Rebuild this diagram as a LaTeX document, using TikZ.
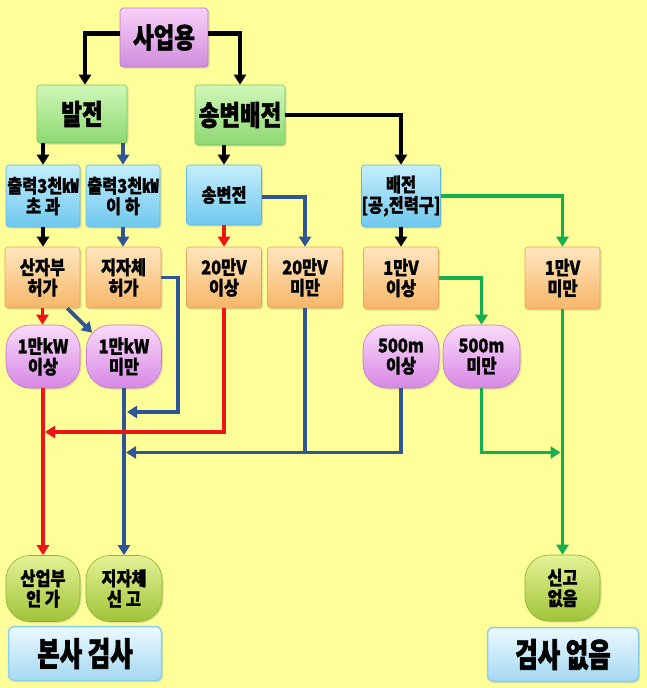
\documentclass[tikz,border=0pt]{standalone}
\usepackage{fontspec}
\newfontfamily\kr{Noto Sans CJK KR}[FakeStretch=0.86, FakeBold=1.2]
\newfontfamily\krc{Noto Sans CJK KR}[FakeStretch=0.8, FakeBold=1.5]
\newfontfamily\krx{Noto Sans CJK KR}[FakeStretch=0.74, FakeBold=1.8]
\usetikzlibrary{arrows.meta,shadows}
\definecolor{bg}{RGB}{255,255,153}
\definecolor{vtop}{RGB}{248,208,248}
\definecolor{vbot}{RGB}{208,140,220}
\definecolor{vbd}{RGB}{190,120,200}
\definecolor{gtop}{RGB}{208,248,184}
\definecolor{gbot}{RGB}{140,216,112}
\definecolor{gbd}{RGB}{120,196,96}
\definecolor{ctop}{RGB}{196,238,252}
\definecolor{cbot}{RGB}{112,200,238}
\definecolor{cbd}{RGB}{96,184,226}
\definecolor{otop}{RGB}{255,230,190}
\definecolor{obot}{RGB}{246,182,104}
\definecolor{obd}{RGB}{230,166,90}
\definecolor{ptop}{RGB}{250,218,250}
\definecolor{pbot}{RGB}{214,136,228}
\definecolor{pbd}{RGB}{196,120,210}
\definecolor{ltop}{RGB}{228,242,150}
\definecolor{lbot}{RGB}{160,196,56}
\definecolor{lbd}{RGB}{140,176,48}
\definecolor{btop}{RGB}{236,250,255}
\definecolor{bbot}{RGB}{164,216,242}
\definecolor{bbd}{RGB}{140,206,238}
\definecolor{lblue}{RGB}{47,85,151}
\definecolor{lred}{RGB}{240,20,20}
\definecolor{lgreen}{RGB}{20,176,80}
\tikzset{
  box/.style={rounded corners=3pt, inner sep=0pt, align=center, text=black, line width=0.6pt,
    drop shadow={shadow xshift=1.5pt, shadow yshift=-1.5pt, opacity=0.25}},
  big/.style={font=\krc\bfseries\fontsize{28}{30}\selectfont},
  mid/.style={font=\kr\bfseries\fontsize{19}{20.5}\selectfont},
  huge/.style={font=\krx\bfseries\fontsize{33}{35}\selectfont},
  violetbox/.style={box, top color=vtop, bottom color=vbot, draw=vbd},
  greenbox/.style={box, top color=gtop, bottom color=gbot, draw=gbd},
  cyanbox/.style={box, top color=ctop, bottom color=cbot, draw=cbd},
  orangebox/.style={box, top color=otop, bottom color=obot, draw=obd},
  pinkpill/.style={box, rounded corners=24pt, top color=ptop, bottom color=pbot, draw=pbd},
  limepill/.style={box, rounded corners=24pt, top color=ltop, bottom color=lbot, draw=lbd},
  bluebase/.style={box, rounded corners=6pt, top color=btop, bottom color=bbot, draw=bbd, line width=1.5pt},
  tipa/.style={-{Triangle[width=12pt,length=10pt]}},
  ka/.style={tipa, line width=4.3pt, black},
  ba/.style={tipa, line width=3.8pt, lblue},
  bl/.style={line width=3.8pt, lblue},
  ra/.style={tipa, line width=3.8pt, lred},
  ga/.style={tipa, line width=3.8pt, lgreen},
}
\begin{document}
\begin{tikzpicture}[x=1pt,y=-1pt]
\fill[bg] (0,0) rectangle (647,688);
\useasboundingbox (0,0) rectangle (647,688);

% top levels
\node[violetbox, big, minimum width=88pt, minimum height=59pt] (sa) at (164,37.5) {사업용};
\node[greenbox, big, minimum width=90pt, minimum height=58pt] (bal) at (82,114) {발전};
\node[greenbox, big, minimum width=90pt, minimum height=60pt] (sbb) at (240,115) {송변배전};

% cyan row
\node[cyanbox, mid, minimum width=74pt, minimum height=62pt] (c1) at (43,196) {출력3천㎾\\초 과};
\node[cyanbox, mid, minimum width=74pt, minimum height=62pt] (c2) at (123,196) {출력3천㎾\\이 하};
\node[cyanbox, mid, minimum width=75pt, minimum height=60pt] (sbj) at (224,195) {송변전};
\node[cyanbox, mid, minimum width=75pt, minimum height=62pt] (bj) at (401,196) {배전\\{[}공,전력구{]}};

% orange row
\node[orangebox, mid, minimum width=75pt, minimum height=61pt] (o1) at (42.5,277.5) {산자부\\허가};
\node[orangebox, mid, minimum width=75pt, minimum height=61pt] (o2) at (123.5,277.5) {지자체\\허가};
\node[orangebox, mid, minimum width=75pt, minimum height=61pt] (o3) at (224,277.5) {20만V\\이상};
\node[orangebox, mid, minimum width=75pt, minimum height=61pt] (o4) at (305,277.5) {20만V\\미만};
\node[orangebox, mid, minimum width=75pt, minimum height=62pt] (o5) at (401,278) {1만V\\이상};
\node[orangebox, mid, minimum width=75pt, minimum height=62pt] (o6) at (562.5,278) {1만V\\미만};

% pink pills
\node[pinkpill, mid, minimum width=74pt, minimum height=63pt] (p1) at (43,356.5) {1만kW\\이상};
\node[pinkpill, mid, minimum width=75pt, minimum height=63pt] (p2) at (124,356.5) {1만kW\\미만};
\node[pinkpill, mid, minimum width=76pt, minimum height=63pt] (p3) at (401,356.5) {500m\\이상};
\node[pinkpill, mid, minimum width=77pt, minimum height=63pt] (p4) at (481.5,356.5) {500m\\미만};

% lime pills
\node[limepill, mid, minimum width=74pt, minimum height=66pt] (g1) at (43,588.5) {산업부\\인 가};
\node[limepill, mid, minimum width=76pt, minimum height=66pt] (g2) at (124,588.5) {지자체\\신 고};
\node[limepill, mid, minimum width=75pt, minimum height=66pt] (g3) at (562.5,588) {신고\\없음};

% bottom bases
\node[bluebase, huge, minimum width=153pt, minimum height=54pt] (b1) at (85,653.5) {본사 검사};
\node[bluebase, huge, minimum width=151pt, minimum height=54pt] (b2) at (563,654.5) {검사 없음};

% helper levels
\coordinate (hb) at (178,412);
\coordinate (hr) at (0,432);
\coordinate (hl) at (0,452.5);

% connectors
\draw[ka] ([yshift=4pt]sa.west) -| ([xshift=3pt]bal.north);
\draw[ka] ([yshift=4pt]sa.east) -| (sbb.north);
\draw[ka] (sbb.east) -| (bj.north);
\draw[ka] (bal.south -| c1.north) -- (c1.north);
\draw[ba] (bal.south -| c2.north) -- (c2.north);
\draw[ka] (sbb.south -| sbj.north) -- (sbj.north);
\draw[ba] ([yshift=-2pt]sbj.east) -| (o4.north);
\draw[ka] (c1.south) -- (c1.south |- o1.north);
\draw[ba] (c2.south) -- (c2.south |- o2.north);
\draw[ra] (sbj.south) -- (sbj.south |- o3.north);
\draw[ka] (bj.south) -- (bj.south |- o5.north);
\draw[ga] (bj.east) -| (o6.north);
\draw[ga] (o5.east) -| (p4.north);
\draw[ra] (o1.south) -- (o1.south |- p1.north);
\draw[ba] ([xshift=-13pt]o1.south east) -- ([shift={(6pt,-8pt)}]p2.north west);

\draw[ra] (p1.south) -- (p1.south |- g1.north);
\draw[ba] (p2.south) -- (p2.south |- g2.north);
\draw[ba, shorten >=3pt] (o2.east) -| (hb) -- (p2.south |- hb);
\draw[bl] (o4.south) -- (o4.south |- hl);
\draw[ba, shorten >=2pt] (p3.south) |- (p2.south |- hl);
\draw[ga, shorten >=2pt] (p4.south) |- (o6.south |- hl);
\draw[ga] (o6.south) -- (o6.south |- g3.north);
\draw[ra, shorten >=2pt] (o3.south) |- (p1.south |- hr);
\end{tikzpicture}
\end{document}
